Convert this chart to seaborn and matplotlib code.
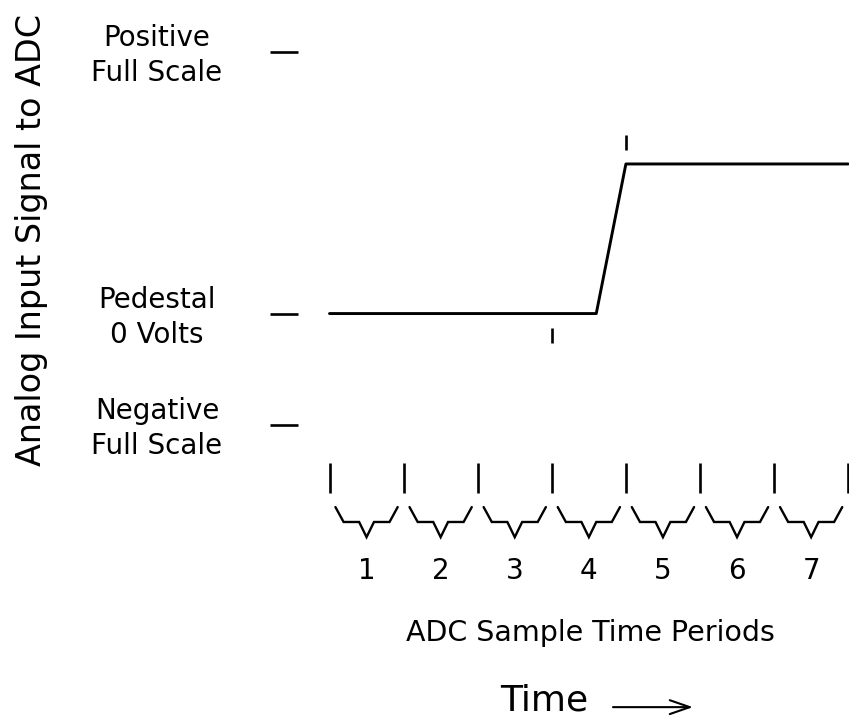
import matplotlib
matplotlib.use("Agg")
import matplotlib.pyplot as plt
import seaborn as sns
import pandas as pd
import numpy as np

# ---------------- data ----------------
# signal (time in ADC sample periods, level relative to full scale)
signal_t = [0.0, 3.6, 4.0, 7.0]
signal_v = [0.0, 0.0, 0.572, 0.572]

# reference levels on the left
level_values = [1.0, 0.0, -0.426]
level_labels = ["Positive\nFull Scale", "Pedestal\n0 Volts", "Negative\nFull Scale"]

# sample period boundaries and labels
boundaries = [0, 1, 2, 3, 4, 5, 6, 7]
period_labels = ["1", "2", "3", "4", "5", "6", "7"]

# sample instants marked on the signal
sample_marks_t = [3.0, 4.0]
sample_marks_lo = [-0.113, 0.625]
sample_marks_hi = [-0.055, 0.683]

# brace shape within one period
brace_frac = [0.08, 0.19, 0.40, 0.50, 0.60, 0.81, 0.92]
brace_lvl = [-0.740, -0.797, -0.797, -0.855, -0.797, -0.797, -0.740]

ylabel_text = "Analog Input Signal to ADC"
xlabel_text = "ADC Sample Time Periods"
time_text = "Time"

# ---------------- style ----------------
sns.set_theme(style="white")
plt.rcParams["font.family"] = ["DejaVu Sans"]

fig = plt.figure(figsize=(8.49, 7.21), dpi=100)
ax = fig.add_axes([0, 0, 1, 1])
ax.set_xlim(-4.447, 7.011)
ax.set_ylim(-1.558, 1.199)
ax.axis("off")

black = "black"

# signal
df = pd.DataFrame({"t": signal_t, "v": signal_v})
sns.lineplot(data=df, x="t", y="v", ax=ax, color=black, linewidth=2.1,
             sort=False, estimator=None)

# level dashes and labels
for v, lab in zip(level_values, level_labels):
    ax.plot([-0.80, -0.425], [v, v], color=black, lw=1.9, solid_capstyle="butt")
    ax.text(-2.328, v - 0.015, lab, ha="center", va="center", fontsize=20,
            multialignment="center", linespacing=1.32, color=black)

# sample instant marks
for t, lo, hi in zip(sample_marks_t, sample_marks_lo, sample_marks_hi):
    ax.plot([t, t], [lo, hi], color=black, lw=1.9, solid_capstyle="butt")

# period boundaries
for b in boundaries:
    ax.plot([b, b], [-0.686, -0.572], color=black, lw=1.9, solid_capstyle="butt")

# braces and numbers
for i, lab in enumerate(period_labels):
    xs = [boundaries[i] + f for f in brace_frac]
    ax.plot(xs, brace_lvl, color=black, lw=1.7, solid_joinstyle="miter")
    ax.text(boundaries[i] + 0.5, -0.985, lab, ha="center", va="center",
            fontsize=20, color=black)

# texts
ax.text(3.515, -1.221, xlabel_text, ha="center", va="center", fontsize=20.5,
        color=black)
ax.text(-4.028, 0.281, ylabel_text, ha="center", va="center", rotation=90,
        fontsize=24, color=black)
ax.text(2.90, -1.481, time_text, ha="center", va="center", fontsize=26,
        color=black)
ax.annotate("", xy=(4.905, -1.505), xytext=(3.826, -1.505),
            arrowprops=dict(arrowstyle="->,head_length=0.72,head_width=0.25",
                            lw=1.5, color=black, mutation_scale=20,
                            shrinkA=0, shrinkB=0))

fig.savefig("out.png", dpi=100)
